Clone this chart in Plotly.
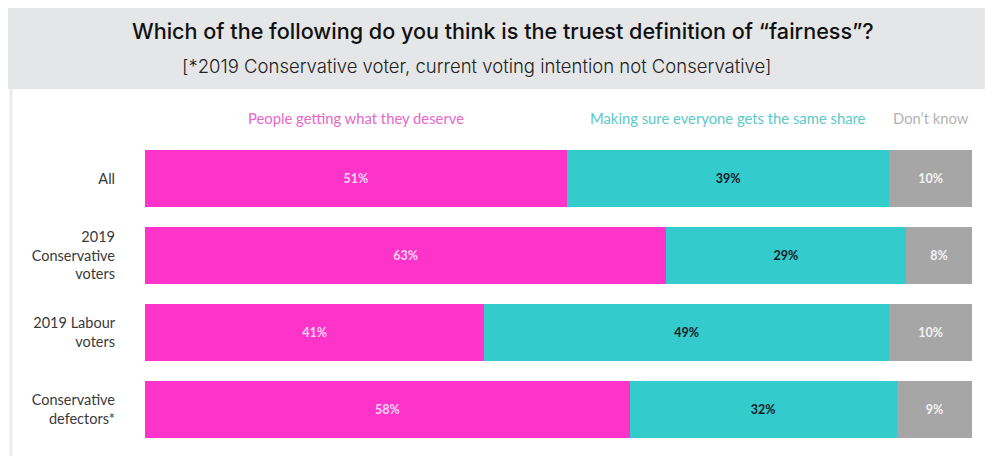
import plotly.graph_objects as go

categories = ["All", "2019<br>Conservative<br>voters", "2019 Labour<br>voters", "Conservative<br>defectors*"]
series_names = ["People getting what they deserve", "Making sure everyone gets the same share", "Don\u2019t know"]
deserve = [51, 63, 41, 58]
same_share = [39, 29, 49, 32]
dont_know = [10, 8, 10, 9]

title_text = "Which of the following do you think is the truest definition of \u201cfairness\u201d?"
subtitle_text = "[*2019 Conservative voter, current voting intention not Conservative]"

bar_colors = ["#fe33c9", "#33cbcb", "#a6a6a6"]
label_colors = ["#e767cb", "#5cc9c8", "#b3b3b3"]
text_colors = ["#fcd6f3", "#15202b", "#f2f2f2"]

W, H = 985, 456
ml, mr, mt, mb = 145, 13, 140, 8
pw, ph = W - ml - mr, H - mt - mb

def px_x(x):
    return (x - ml) / pw

def px_y(y):
    return (H - mb - y) / ph

fig = go.Figure()
all_series = [deserve, same_share, dont_know]
for name, vals, col, tcol in zip(series_names, all_series, bar_colors, text_colors):
    fig.add_trace(go.Bar(
        y=categories, x=vals, name=name, orientation="h",
        marker=dict(color=col, line=dict(width=0)),
        text=[f"{v}%" for v in vals],
        textposition="inside", insidetextanchor="middle", textangle=0,
        insidetextfont=dict(family="Lato", size=12.5, color=tcol, weight="bold"),
        hoverinfo="skip",
    ))

# legend labels centered over first-row segments (normalized)
tot0 = deserve[0] + same_share[0] + dont_know[0]
cum = 0
for name, vals, lc in zip(series_names, all_series, label_colors):
    mid = (cum + vals[0] / 2) / tot0 * 100
    cum += vals[0]
    fig.add_annotation(x=mid, xref="x", y=px_y(118), yref="paper", text=name,
                       showarrow=False, font=dict(family="Lato", size=14.8, color=lc),
                       xanchor="center", yanchor="middle")

# header band
fig.add_shape(type="rect", xref="paper", yref="paper",
              x0=px_x(8), x1=px_x(986), y0=px_y(89), y1=px_y(8),
              fillcolor="#e5e6e8", line=dict(width=0), layer="below")
fig.add_shape(type="line", xref="paper", yref="paper",
              x0=px_x(11), x1=px_x(11), y0=px_y(89), y1=px_y(460),
              line=dict(color="#ebebeb", width=3), layer="below")

fig.add_annotation(x=px_x(503), y=px_y(31), xref="paper", yref="paper", text=title_text,
                   showarrow=False, xanchor="center", yanchor="middle",
                   font=dict(family="Inter", size=21.6, color="#111111", weight=500))
fig.add_annotation(x=px_x(476), y=px_y(66), xref="paper", yref="paper", text=subtitle_text,
                   showarrow=False, xanchor="center", yanchor="middle",
                   font=dict(family="Inter", size=18.5, color="#222222", weight=300))

fig.update_layout(
    width=W, height=H,
    margin=dict(l=ml, r=mr, t=mt, b=mb),
    barmode="stack", barnorm="percent", bargap=0.26,
    paper_bgcolor="white", plot_bgcolor="white",
    showlegend=False,
    xaxis=dict(range=[0, 100], visible=False, fixedrange=True),
    yaxis=dict(autorange="reversed", showgrid=False, zeroline=False, showline=False,
               ticks="", ticklabelstandoff=29,
               tickfont=dict(family="Lato", size=14.5, color="#3a3a3a")),
    uniformtext=dict(minsize=8, mode="show"),
)

fig.write_html("out.html")
